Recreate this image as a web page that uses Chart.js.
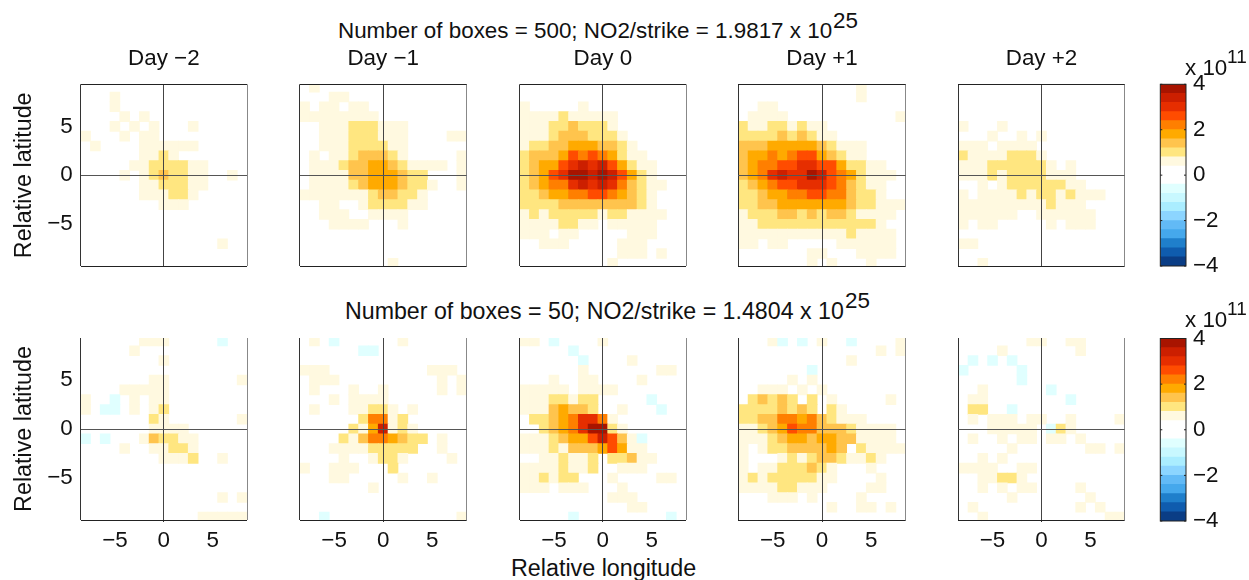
<!DOCTYPE html>
<html>
<head>
<meta charset="utf-8">
<script src="https://cdn.jsdelivr.net/npm/chart.js@4/dist/chart.umd.min.js"></script>
<style>
html,body{margin:0;padding:0;background:#fff;width:1249px;height:580px;overflow:hidden}
canvas{position:absolute;display:block}
.t{position:absolute;font:22.4px "Liberation Sans",sans-serif;color:#111;white-space:nowrap;line-height:24px;z-index:5}
</style>
</head>
<body>
<div class="t" style="left:338px;top:19px">Number of boxes = 500; NO2/strike = 1.9817 x 10</div>
<div class="t" style="left:833px;top:9px">25</div>
<div class="t" style="left:345px;top:299px;font-size:23.2px">Number of boxes = 50; NO2/strike = 1.4804 x 10</div>
<div class="t" style="left:845px;top:289px">25</div>
<div class="t" style="left:1185px;top:56px">x 10</div>
<div class="t" style="left:1227px;top:45px;font-size:19px">11</div>
<div class="t" style="left:1185px;top:308px">x 10</div>
<div class="t" style="left:1227px;top:297px;font-size:19px">11</div>
<div class="t" style="left:511px;top:556px;font-size:23.3px">Relative longitude</div>
<script>
// Longitudes (columns) and latitudes (rows, top to bottom) of the grid cells
const LONS=[-8,-7,-6,-5,-4,-3,-2,-1,0,1,2,3,4,5,6,7,8];
const LATS=[9,8,7,6,5,4,3,2,1,0,-1,-2,-3,-4,-5,-6,-7,-8,-9];
const DAY_LABELS=['Day \u22122','Day \u22121','Day 0','Day +1','Day +2'];
const AXIS_TICKS=[-5,0,5];
const COLORBAR_TICKS=[-4,-2,0,2,4];
// Cell values, one character per cell, in units of 1e11
const CELL_VALUE={'.':0,'1':0.6,'2':1.0,'3':1.4,'4':1.8,'5':2.2,'6':2.6,'7':3.0,'8':3.4,'9':3.8,'a':-0.6};
// Colour bands from -4 to +4, 0.4 wide
const BAND_COLORS=['#0a3d85','#0f5cae','#1f7fcb','#45a8ec','#62baf6','#8cd5ff','#aaedff','#c8f8ff','#e0ffff','#ffffff','#ffffff','#fff9e0','#ffe680','#ffc44d','#ffaa00','#ff7f00','#ff4c00','#e62e00','#cc1f00','#a81400'];
const BAND_EDGES=[-4,-3.6,-3.2,-2.8,-2.4,-2,-1.6,-1.2,-0.8,-0.4,0,0.4,0.8,1.2,1.6,2,2.4,2.8,3.2,3.6,4];

const boxes500_dayM2=[
".................","...1.............","...1.............","....1.1..........","...1.1.1...1.....","1...1.11.........",".1....111111.....","......1121.......",".....11222211....","....1.1232211..1.","......1122211....","......111221.....","........111......",".................",".................",".................","..............1..",".................","................."];
const boxes500_dayM1=[
".1...............","...11............","1.11.11..........","11111111.........","..111222111......","..111222111....11","..111222211......",".1.11233321.....1",".11123344321111.1",".111133444322...1",".1111234443221..1","1111111233221....","..11..1222211....","..111..1111......","...1111...1......",".................",".................",".................",".........1......."];
const boxes500_day0=[
".................",".................","1.....1..........","1111211111.......","1112232221.......","11123332221......","122334443321.....","2333465654211....","23446787864211...","23467998986421...","234557878753211..","22344556654321...","22223333333321...","121222221221111..","11112211.11111...","111.11.....111...","..111.....111....","..........111.1..",".........1......."];
const boxes500_dayP1=[
"............1....","............1....","..11.............",".1111...........1","211221211........","2222323211.......","3334444432111....","3445456643211....","345566776642211..","3457877986542111.","234566777653211..","223445566553221..","22334444444322111","1222332323321111.","112222222222221..","1111111111121111.","11.11.....111111.",".......11...1111.",".......1.1...1..."];
const boxes500_dayP2=[
".................",".................",".................",".................","1...1............","...1..1.1........","111.1111.........","211112221........","1112222221.1.....","111212222111.....","..1.122222211....","1.1111212212111..","1111111112111....","111111..111111...","1.11.....1.111...",".................","11...............",".................","..1.............."];
const boxes50_dayM2=[
"......111.....a..",".....1...........","........1........",".................",".......11.......1","....11111........","1..a.1.11........","1.aa.1.12........",".......21.......1",".......1111......","a.a...132211.....","....1..11221.....","........1112..1..",".................",".................",".................","..............1.1",".................","............11111"];
const boxes50_dayM1=[
".1.a......1......","......aa.........",".................","111..........111.",".111..........1.1",".1...1..1.....1.1","...1.1111........",".1...11221.1.....","......25512......",".....2148121.....","....213554322.1..","...111122222..1..","....1..1221....1.","1..111...2.......","...11.....1..1...",".......1.........",".................",".................","..a.............1"];
const boxes50_day0=[
"11.a....1........",".....a...........","......a....1.....","......1.......11.","...1..11....1....","11111.1111.......","11122122.....a...","11134332..1...a..",".223457751.......","..234579921......","111234468631a....","1112133346411....","..112112.22311...","11112112..111....","112122...1....11.","111.111...1......",".........111.....","...........11....",".....a.........a."];
const boxes50_dayP1=[
"...1a.a.1..a....1","..............1.1","...........1.....",".......a.........",".....1.1.........","..111.1.1........",".23232.2.1.....1.","22223232.21......","2233554532111....","1123465533321111.","1112344344331111.","1.122333343.21111","1...12123321121..","1.11222321...1...","1212222211....1..","111122111....11..","...111.1....1....",".........1..11.1.","................."];
const boxes50_dayP2=[
".......11..11....","....1.......1....",".a.a.a...........","a.....a..........","......a..........","..1......a.......",".11........a.....",".22..a...........",".1.111.11..1....1","...11111.a21.....",".1..1.11.11.1....",".....1.......11.1","..1.1............","1111..11.........","..11221..........","..1.1.11....1....",".....1.......1...",".1..........1.1..","..1............11"];
const PANELS=[
 [boxes500_dayM2,boxes500_dayM1,boxes500_day0,boxes500_dayP1,boxes500_dayP2],
 [boxes50_dayM2,boxes50_dayM1,boxes50_day0,boxes50_dayP1,boxes50_dayP2]];

Chart.defaults.font.family='"Liberation Sans",sans-serif';
Chart.defaults.color='#111';
const FS=22.4;
const X_EDGES=[[80.7,247],[299.7,466.7],[519.7,686],[738.3,905.7],[958.3,1124.7]];
const CANVAS_LEFT=[0,262,482,700,920];
const ROW_GEOM=[{top:84.3,bottom:266.3,cTop:48,cH:232},{top:338,bottom:520,cTop:330,cH:225}];
const NONE='rgba(0,0,0,0)';

function bandColor(v){return BAND_COLORS[Math.floor((v+4)/0.4)];}
function fmt(v){return v<0?'\u2212'+(-v):String(v);}
function addCanvas(l,t,w,h){const c=document.createElement('canvas');c.width=w;c.height=h;c.style.left=l+'px';c.style.top=t+'px';c.style.width=w+'px';c.style.height=h+'px';document.body.appendChild(c);return c;}
function noPad(a){a.paddingTop=a.paddingBottom=a.paddingLeft=a.paddingRight=0;}

function makePanel(row,col){
  const g=ROW_GEOM[row],[L,R]=X_EDGES[col],cl=CANVAS_LEFT[col];
  const W=Math.ceil(R+6)-cl;
  const cells=[];
  PANELS[row][col].forEach((s,r)=>{[...s].forEach((ch,c)=>{
    const v=CELL_VALUE[ch];
    if(v) cells.push({x:LONS[c],y:[LATS[r]-0.5,LATS[r]+0.5],v});
  });});
  const edgeTop=row===0?'#222':NONE;
  const xLim=8.5,yLim=9.3;
  const showY=col===0, bottom=row===1;
  new Chart(addCanvas(cl,g.cTop,W,g.cH),{
    type:'bar',
    data:{datasets:[{data:cells,
      backgroundColor:c=>c.raw?bandColor(c.raw.v):'#fff',
      borderWidth:0,inflateAmount:0.4,barPercentage:1,categoryPercentage:1}]},
    options:{
      responsive:false,animation:false,devicePixelRatio:1,
      layout:{autoPadding:false,padding:{left:0,top:row===0?0:g.top-g.cTop,right:W-(R-cl),bottom:0}},
      plugins:{legend:{display:false},tooltip:{enabled:false},
        title:{display:row===0,fullSize:false,text:DAY_LABELS[col],color:'#111',font:{size:FS,weight:'normal',lineHeight:1},
          padding:{top:0,bottom:g.top-g.cTop-FS}}},
      scales:{
        x:{type:'linear',min:-xLim,max:xLim,offset:false,
          afterBuildTicks:a=>{a.ticks=[-xLim,...AXIS_TICKS,xLim].map(value=>({value}));},
          afterFit:a=>{noPad(a);a.height=g.cH-(g.bottom-g.cTop);},
          border:{display:false},
          grid:{offset:false,z:1,lineWidth:1,drawTicks:bottom,tickLength:2,
            tickColor:c=>c.tick&&c.tick.value===0?'#333':NONE,
            color:c=>{if(!c.tick)return NONE;const v=c.tick.value;return v===0?'#444':v===xLim?'#888':v===-xLim?'#333':NONE;}},
          ticks:{display:bottom,autoSkip:false,maxRotation:0,padding:5,font:{size:FS},color:'#111',
            callback:v=>AXIS_TICKS.includes(v)?fmt(v):''}},
        y:{type:'linear',min:-yLim,max:yLim,
          afterBuildTicks:a=>{a.ticks=[-yLim,...AXIS_TICKS,yLim].map(value=>({value}));},
          afterFit:a=>{noPad(a);a.width=L-cl;},
          border:{display:false},
          grid:{z:1,lineWidth:1,drawTicks:false,
            color:c=>{if(!c.tick)return NONE;const v=c.tick.value;return v===0?'#555':v===-yLim?'#222':v===yLim?edgeTop:NONE;}},
          ticks:{display:showY,autoSkip:false,padding:8,font:{size:FS},color:'#111',
            callback:v=>AXIS_TICKS.includes(v)?fmt(v):''},
          title:{display:showY,text:'Relative latitude',color:'#111',font:{size:23.3,lineHeight:1},padding:{top:13,bottom:0}}}
      }
    }
  });
}
const colorbarFrame={id:'colorbarFrame',afterDraw(ch){
  const {ctx,chartArea:a,scales:{y}}=ch;
  ctx.save();ctx.strokeStyle='#222';ctx.lineWidth=1;
  ctx.strokeRect(a.left,a.top,a.right-a.left,a.bottom-a.top);
  COLORBAR_TICKS.forEach(t=>{const p=y.getPixelForValue(t);ctx.beginPath();ctx.moveTo(a.left,p);ctx.lineTo(a.left+2,p);ctx.moveTo(a.right-2,p);ctx.lineTo(a.right,p);ctx.stroke();});
  ctx.restore();}};
function makeColorbar(top,bottom){
  const cTop=Math.floor(top-24),cH=Math.ceil(bottom-cTop)+16,cl=1140,W=109;
  const sets=BAND_COLORS.map((col,i)=>({data:[[BAND_EDGES[i],BAND_EDGES[i+1]]],backgroundColor:col,borderWidth:0,inflateAmount:0.4,barPercentage:1,categoryPercentage:1,grouped:false}));
  new Chart(addCanvas(cl,cTop,W,cH),{
    type:'bar',
    data:{labels:['NO2'],datasets:sets},
    plugins:[colorbarFrame],
    options:{responsive:false,animation:false,devicePixelRatio:1,
      layout:{autoPadding:false,padding:{left:20.3,top:top-cTop,right:0,bottom:0}},
      plugins:{legend:{display:false},tooltip:{enabled:false}},
      scales:{
        x:{display:true,grid:{display:false,drawTicks:false},border:{display:false},ticks:{display:false},
          afterFit:a=>{noPad(a);a.height=cH-(bottom-cTop);}},
        y:{position:'right',min:-4,max:4,
          afterBuildTicks:a=>{a.ticks=COLORBAR_TICKS.map(value=>({value}));},
          afterFit:a=>{noPad(a);a.width=W-46;},
          grid:{display:false,drawTicks:false},border:{display:false},
          ticks:{autoSkip:false,padding:7,font:{size:FS},color:'#111',callback:v=>fmt(v)}}
      }}
  });
}
for(let r=0;r<2;r++)for(let c=0;c<5;c++)makePanel(r,c);
makeColorbar(84.3,266);
makeColorbar(338.5,521);
</script>
</body>
</html>
